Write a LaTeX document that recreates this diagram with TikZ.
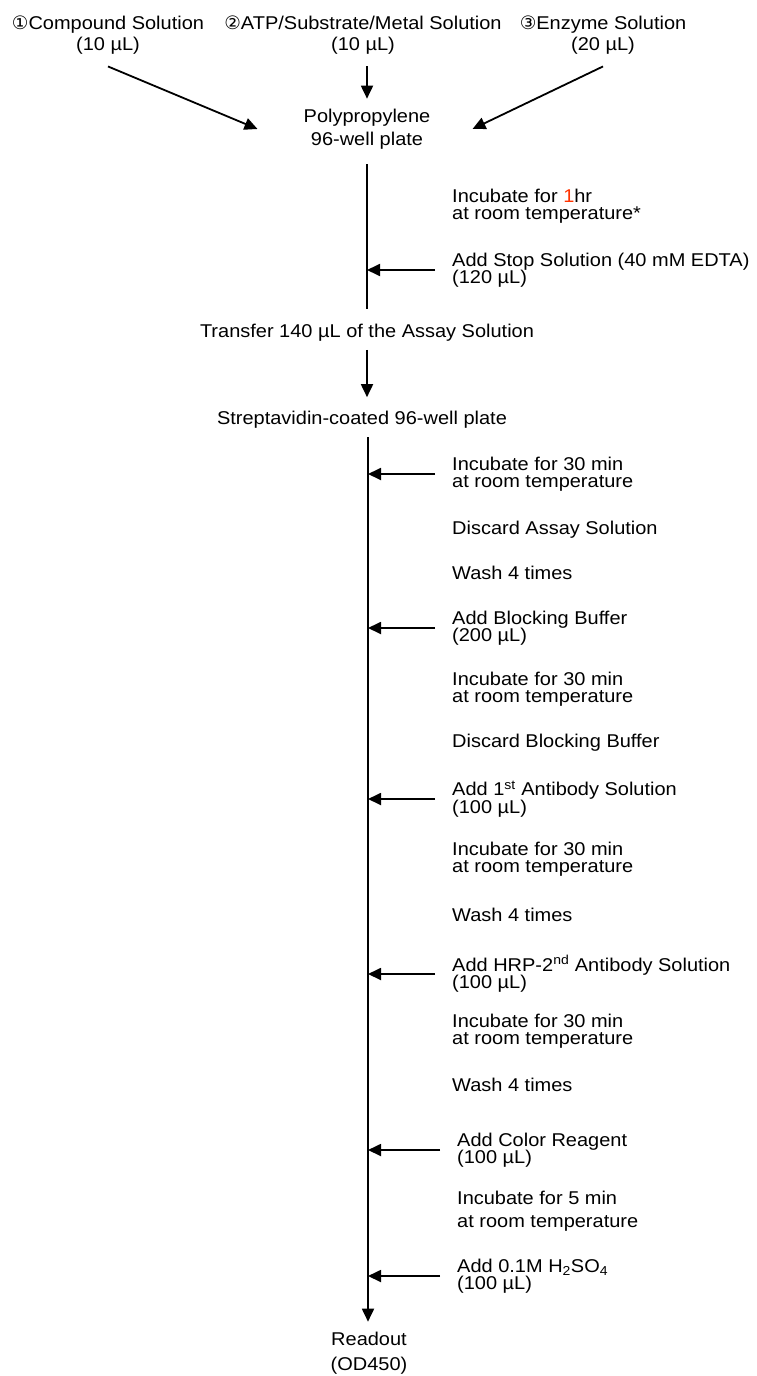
\documentclass[tikz,border=0pt]{standalone}
\usepackage{fontspec}
\setmainfont{Liberation Sans}[FakeStretch=1.08]
\newfontfamily\circfont{DejaVu Sans}
\usetikzlibrary{arrows.meta,positioning,calc}
\definecolor{hourred}{RGB}{255,51,0}
\newcommand{\uL}{µL}
\newcommand{\rt}{at room temperature}
\newcommand{\cnum}[1]{{\circfont #1}}

\begin{document}
\begin{tikzpicture}[x=1bp,y=-1bp,>={Triangle[length=13bp,width=12bp]},
    every node/.style={inner sep=0pt,font=\fontsize{18.5bp}{17.5bp}\selectfont},
    stepnote/.style={anchor=west,align=left},
    loose/.style={align=center,font=\fontsize{18.5bp}{23bp}\selectfont},
    flow/.style={line width=1.8bp}]
    \useasboundingbox (0,0) rectangle (756,1376);

    % three solutions into the first plate
    \node[loose,font=\fontsize{18.5bp}{21bp}\selectfont] (comp) at (108,35) {\cnum{①}Compound Solution\\(10 \uL)};
    \node[loose,font=\fontsize{18.5bp}{21bp}\selectfont] (atp) at (363,35) {\cnum{②}ATP/Substrate/Metal Solution\\(10 \uL)};
    \node[loose,font=\fontsize{18.5bp}{21bp}\selectfont] (enz) at (603,35) {\cnum{③}Enzyme Solution\\(20 \uL)};
    \node[loose] (plate) at (367,129) {Polypropylene\\96-well plate};

    \node[stepnote] (inc1) at (452,206) {Incubate for \textcolor{hourred}{1}hr\\\rt*};
    \node[stepnote] (stop) at (452,270) {Add Stop Solution (40 mM EDTA)\\(120 \uL)};

    \node (transfer) at (367,333) {Transfer 140 \uL{} of the Assay Solution};
    \node (strep) at (362,420) {Streptavidin-coated 96-well plate};

    % steps on the coated plate
    \node[stepnote] (inc2) at (452,474) {Incubate for 30 min\\\rt};
    \node[stepnote] (disc1) at (452,530) {Discard Assay Solution};
    \node[stepnote] (wash1) at (452,573) {Wash 4 times};
    \node[stepnote] (block) at (452,628) {Add Blocking Buffer\\(200 \uL)};
    \node[stepnote] (inc3) at (452,689) {Incubate for 30 min\\\rt};
    \node[stepnote] (disc2) at (452,743) {Discard Blocking Buffer};
    \node[stepnote] (anti1) at (452,799) {Add 1\textsuperscript{st} Antibody Solution\\(100 \uL)};
    \node[stepnote] (inc4) at (452,859) {Incubate for 30 min\\\rt};
    \node[stepnote] (wash2) at (452,915) {Wash 4 times};
    \node[stepnote] (anti2) at (452,974) {Add HRP-2\textsuperscript{nd} Antibody Solution\\(100 \uL)};
    \node[stepnote] (inc5) at (452,1031) {Incubate for 30 min\\\rt};
    \node[stepnote] (wash3) at (452,1085) {Wash 4 times};
    \node[stepnote] (color) at (457,1150) {Add Color Reagent\\(100 \uL)};
    \node[stepnote,font=\fontsize{18.5bp}{23bp}\selectfont] (inc6) at (457,1211) {Incubate for 5 min\\\rt};
    \node[stepnote] (acid) at (457,1276) {Add 0.1M H\textsubscript{2}SO\textsubscript{4}\\(100 \uL)};

    \node[loose,font=\fontsize{18.5bp}{25bp}\selectfont] (readout) at (369,1353) {Readout\\(OD450)};
    \coordinate (mtop) at (368,437);

    \draw[flow,->] ([yshift=-12bp]comp.south) -- ([xshift=-46bp]plate.west);
    \draw[flow,->] ([yshift=-12bp]plate.north |- atp.south) -- ([yshift=10bp]plate.north);
    \draw[flow,->] ([yshift=-12bp]enz.south) -- ([xshift=42bp]plate.east);
    \draw[line width=1.2bp] ([yshift=-15bp]plate.south) -- ([yshift=15bp]plate.south |- transfer.north);
    \draw[flow,->] ([xshift=-17bp]stop.west) -- (stop.west -| plate.south);
    \draw[flow,->] ([yshift=-8bp]plate.south |- transfer.south) -- ([yshift=14bp]plate.south |- strep.north);

    \draw[flow,->,shorten >=10bp] (mtop) -- (mtop |- readout.north);
    \foreach \s in {inc2,block,anti1,anti2,color,acid}
        \draw[flow,->] ([xshift=-17bp]\s.west) -- (\s.west -| mtop);
\end{tikzpicture}
\end{document}
